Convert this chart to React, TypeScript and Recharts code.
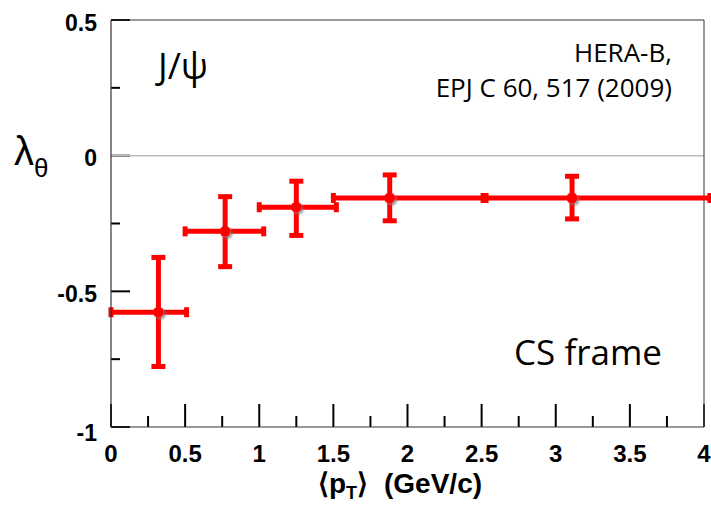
import React from 'react';
import {
  ScatterChart,
  Scatter,
  XAxis,
  YAxis,
  ErrorBar,
  ReferenceLine,
} from 'recharts';

// mean pT of each bin and measured lambda_theta
const ptMean = [0.32, 0.77, 1.25, 1.88, 3.11];
const lambdaTheta = [-0.577, -0.279, -0.19, -0.156, -0.156];
// bin edges (horizontal bars)
const ptLow = [0, 0.5, 1.0, 1.5, 2.53];
const ptHigh = [0.51, 1.03, 1.52, 2.51, 4.04];
// vertical error bounds
const lambdaLow = [-0.777, -0.409, -0.294, -0.24, -0.233];
const lambdaHigh = [-0.375, -0.151, -0.094, -0.071, -0.076];

const xTicks = [0, 0.25, 0.5, 0.75, 1, 1.25, 1.5, 1.75, 2, 2.25, 2.5, 2.75, 3, 3.25, 3.5, 3.75, 4];
const yTicks = [-1, -0.75, -0.5, -0.25, 0, 0.25, 0.5];

const data = ptMean.map((x, i) => ({
  x,
  y: lambdaTheta[i],
  ex: [x - ptLow[i], ptHigh[i] - x],
  ey: [lambdaTheta[i] - lambdaLow[i], lambdaHigh[i] - lambdaTheta[i]],
}));

const W = 711;
const H = 509;
const M = { top: 20, right: 7, bottom: 0, left: 0 };
const Y_AXIS_W = 111;
const X_AXIS_H = 82;
// px per data unit, used only to size the inward tick marks
const pxPerX = (W - M.left - M.right - Y_AXIS_W) / 4;
const pxPerY = (H - M.top - M.bottom - X_AXIS_H) / 1.5;

const tickFont = '"Liberation Sans", Arial, sans-serif';
const isMajor = (v: number) => Math.abs(v * 2 - Math.round(v * 2)) < 1e-6;

const XTick = (props: any) => {
  const { x, y, payload } = props;
  if (!isMajor(payload.value)) return <g />;
  return (
    <text x={x} y={y + 26} textAnchor="middle" dominantBaseline="central"
      fontFamily={tickFont} fontWeight="bold" fontSize={24} fill="#000">
      {String(payload.value)}
    </text>
  );
};

const YTick = (props: any) => {
  const { x, y, payload } = props;
  if (!isMajor(payload.value)) return <g />;
  const dy = payload.value === -1 ? 6 : 2.5;
  return (
    <text x={x - 14} y={y + dy} textAnchor="end" dominantBaseline="central"
      fontFamily={tickFont} fontWeight="bold" fontSize={23} fill="#000">
      {String(payload.value)}
    </text>
  );
};

const Dot = (props: any) => <circle cx={props.cx} cy={props.cy} r={5.5} fill="#ff0000" />;

const labelFont = '"Open Sans", "Noto Sans", sans-serif';

export default function App() {
  return (
    <div style={{ position: 'fixed', left: 0, top: 0, width: W, height: H, background: '#fff' }}>
      <style>{`.recharts-scatter { filter: url(#dropShadow); }`}</style>
      <ScatterChart width={W} height={H} margin={M}>
        <XAxis
          type="number"
          dataKey="x"
          domain={[0, 4]}
          ticks={xTicks}
          interval={0}
          height={X_AXIS_H}
          tickSize={0}
          tickMargin={0}
          tickLine={false}
          tick={<XTick />}
          axisLine={{ stroke: '#333', strokeWidth: 1.2 }}
          allowDataOverflow
        />
        <YAxis
          type="number"
          dataKey="y"
          domain={[-1, 0.5]}
          ticks={yTicks}
          interval={0}
          width={Y_AXIS_W}
          tickSize={0}
          tickMargin={0}
          tickLine={false}
          tick={<YTick />}
          axisLine={{ stroke: '#333', strokeWidth: 1.2 }}
          allowDataOverflow
        />
        {/* inward tick marks */}
        {xTicks.map((v) => (
          <ReferenceLine
            key={'xt' + v}
            segment={[{ x: v, y: -1 }, { x: v, y: -1 + (isMajor(v) ? 23 : 11) / pxPerY }]}
            stroke="#000"
            strokeWidth={2}
          />
        ))}
        {yTicks.map((v) => (
          <ReferenceLine
            key={'yt' + v}
            segment={[{ x: 0, y: v }, { x: (isMajor(v) ? 19 : 9) / pxPerX, y: v }]}
            stroke="#000"
            strokeWidth={2}
          />
        ))}
        <ReferenceLine y={0} stroke="#bdbdbd" strokeWidth={1.5} />
        <ReferenceLine y={0.5} stroke="#333" strokeWidth={1.2} />
        <ReferenceLine x={4} stroke="#555" strokeWidth={1.2} />
        <Scatter data={data} fill="#ff0000" shape={<Dot />} isAnimationActive={false}>
          <ErrorBar dataKey="ex" direction="x" width={5} stroke="#ff0000" strokeWidth={5} isAnimationActive={false} />
          <ErrorBar dataKey="ey" direction="y" width={7} stroke="#ff0000" strokeWidth={5} isAnimationActive={false} />
        </Scatter>
      </ScatterChart>
      <svg width={W} height={H} style={{ position: 'absolute', left: 0, top: 0, pointerEvents: 'none' }}>
        <defs>
          <filter id="dropShadow" x="-10%" y="-10%" width="130%" height="130%">
            <feDropShadow dx={2} dy={2} stdDeviation={0.8} floodColor="#777" floodOpacity={0.7} />
          </filter>
        </defs>
        <text x={158} y={79} fontFamily={labelFont} fontSize={36} fill="#000">J/ψ</text>
        <text x={672} y={62} textAnchor="end" fontFamily={labelFont} fontSize={26} fill="#000">HERA-B,</text>
        <text x={672} y={97} textAnchor="end" fontFamily={labelFont} fontSize={26} fill="#000">EPJ C 60, 517 (2009)</text>
        <text x={662} y={365} textAnchor="end" fontFamily={labelFont} fontSize={35} fill="#000">CS frame</text>
        <text x={14} y={165} fontFamily={tickFont} fontSize={40} fill="#000">
          λ<tspan fontSize={26} dy={12}>θ</tspan>
        </text>
        <text x={318} y={493} fontFamily={tickFont} fontWeight="bold" fontSize={28} fill="#000">
          ⟨p<tspan fontSize={18} dy={6}>T</tspan><tspan dy={-6}>⟩</tspan>
        </text>
        <text x={384} y={493} fontFamily={tickFont} fontWeight="bold" fontSize={28} fill="#000">(GeV/c)</text>
      </svg>
    </div>
  );
}
